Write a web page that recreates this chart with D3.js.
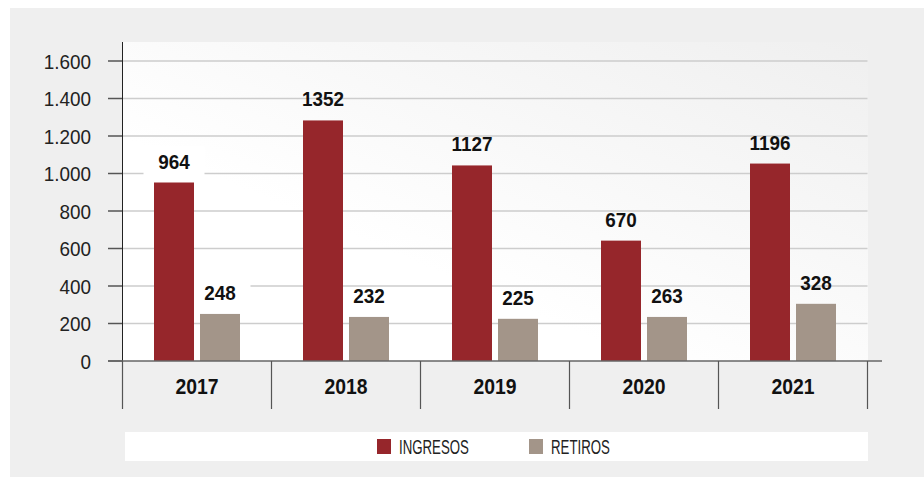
<!DOCTYPE html>
<html>
<head>
<meta charset="utf-8">
<script src="https://cdn.jsdelivr.net/npm/d3@7"></script>
<style>
  html, body { margin: 0; padding: 0; background: #ffffff; }
  svg { display: block; font-family: "Liberation Sans", Arial, sans-serif; }
</style>
</head>
<body>
<svg id="grafico" width="924" height="477"></svg>
<script>
// Datos
const anios = ["2017", "2018", "2019", "2020", "2021"];
const ingresos = [964, 1352, 1127, 670, 1196];        // etiquetas
const retiros = [248, 232, 225, 263, 328];            // etiquetas
// alturas de barra tal como aparecen dibujadas
const ingresosBarra = [952, 1283, 1043, 642, 1053];
const retirosBarra = [251, 235, 225, 235, 305];
const ticksY = [0, 200, 400, 600, 800, 1000, 1200, 1400, 1600];
const series = ["INGRESOS", "RETIROS"];

const colorIngresos = "#96262b";
const colorRetiros = "#a39589";
const formato = d3.formatLocale({ decimal: ",", thousands: ".", grouping: [3], currency: ["", ""] }).format(",d");

const svg = d3.select("#grafico");

// fondo exterior
svg.append("rect").attr("x", 10).attr("y", 8).attr("width", 914).attr("height", 469).attr("fill", "#efefef");

const y = d3.scaleLinear().domain([0, 1600]).range([361, 61]);
const x = d3.scaleBand().domain(anios).range([122.5, 867.5]).padding(0);

// degradado del area de trazado
const defs = svg.append("defs");
const grad = defs.append("linearGradient").attr("id", "fondoPlot")
    .attr("x1", "0%").attr("y1", "100%").attr("x2", "100%").attr("y2", "0%");
grad.append("stop").attr("offset", "0%").attr("stop-color", "#ffffff");
grad.append("stop").attr("offset", "35%").attr("stop-color", "#ffffff");
grad.append("stop").attr("offset", "100%").attr("stop-color", "#efefef");

svg.append("rect").attr("x", 123).attr("y", 42).attr("width", 745).attr("height", 319).attr("fill", "url(#fondoPlot)");

// lineas de cuadricula
svg.append("g").selectAll("line")
    .data(ticksY.filter(d => d > 0))
    .enter().append("line")
    .attr("x1", 123).attr("x2", 867.5)
    .attr("y1", d => y(d)).attr("y2", d => y(d))
    .attr("stroke", "#cdcdcd").attr("stroke-width", 1.3);

// marcas y etiquetas eje Y
const ejeY = svg.append("g");
ejeY.selectAll("line")
    .data(ticksY)
    .enter().append("line")
    .attr("x1", 108).attr("x2", 122.5)
    .attr("y1", d => y(d)).attr("y2", d => y(d))
    .attr("stroke", "#555").attr("stroke-width", 1.5);
ejeY.selectAll("g.tick")
    .data(ticksY)
    .enter().append("g")
    .attr("class", "tick")
    .attr("transform", d => "translate(91," + (y(d) + 7.5) + ") scale(0.9,1)")
    .append("text")
    .attr("text-anchor", "end")
    .attr("font-size", 21)
    .attr("fill", "#222")
    .text(d => formato(d));

svg.append("line").attr("x1", 122.5).attr("x2", 122.5).attr("y1", 42).attr("y2", 361)
    .attr("stroke", "#222").attr("stroke-width", 1);

// etiquetas de fondo blanco (solo primera columna)
const anchoBarra = 40;
const hueco = 6;
const xIng = d => x(d) + x.bandwidth() / 2 - hueco / 2 - anchoBarra;
const xRet = d => x(d) + x.bandwidth() / 2 + hueco / 2;

const cajas = svg.append("g");
[[ingresosBarra, xIng], [retirosBarra, xRet]].forEach(function (par) {
    const vals = par[0], fx = par[1];
    cajas.append("rect")
        .attr("x", fx(anios[0]) + anchoBarra / 2 - 30.5)
        .attr("y", y(vals[0]) - 14 - 22)
        .attr("width", 61).attr("height", 30)
        .attr("fill", "#ffffff");
});

// barras
const barras = svg.append("g");
barras.selectAll("rect.ing")
    .data(anios)
    .enter().append("rect")
    .attr("class", "ing")
    .attr("x", d => xIng(d))
    .attr("y", (d, i) => y(ingresosBarra[i]))
    .attr("width", anchoBarra)
    .attr("height", (d, i) => y(0) - y(ingresosBarra[i]))
    .attr("fill", colorIngresos);
barras.selectAll("rect.ret")
    .data(anios)
    .enter().append("rect")
    .attr("class", "ret")
    .attr("x", d => xRet(d))
    .attr("y", (d, i) => y(retirosBarra[i]))
    .attr("width", anchoBarra)
    .attr("height", (d, i) => y(0) - y(retirosBarra[i]))
    .attr("fill", colorRetiros);

// etiquetas de valor
function etiquetas(vals, alturas, fx) {
    svg.append("g").selectAll("g")
        .data(anios)
        .enter().append("g")
        .attr("transform", (d, i) => "translate(" + (fx(d) + anchoBarra / 2) + "," + (y(alturas[i]) - 14) + ") scale(0.9,1)")
        .append("text")
        .attr("text-anchor", "middle")
        .attr("font-size", 21)
        .attr("font-weight", "bold")
        .attr("fill", "#111")
        .text((d, i) => vals[i]);
}
etiquetas(ingresos, ingresosBarra, xIng);
etiquetas(retiros, retirosBarra, xRet);

// linea base y separadores de categoria
svg.append("line").attr("x1", 108).attr("x2", 882).attr("y1", y(0)).attr("y2", y(0))
    .attr("stroke", "#666").attr("stroke-width", 1.5);
const bordes = anios.map(d => x(d)).concat([x.range()[1]]);
svg.append("g").selectAll("line")
    .data(bordes)
    .enter().append("line")
    .attr("x1", d => d).attr("x2", d => d)
    .attr("y1", y(0)).attr("y2", 409)
    .attr("stroke", "#555").attr("stroke-width", 1.2);

svg.append("g").selectAll("g")
    .data(anios)
    .enter().append("g")
    .attr("transform", d => "translate(" + (x(d) + x.bandwidth() / 2) + ",394) scale(0.88,1)")
    .append("text")
    .attr("text-anchor", "middle")
    .attr("font-size", 22)
    .attr("font-weight", "bold")
    .attr("fill", "#111")
    .text(d => d);

// leyenda
svg.append("rect").attr("x", 125).attr("y", 432).attr("width", 743).attr("height", 29).attr("fill", "#ffffff");
const leyenda = [
    { nombre: series[0], color: colorIngresos, x: 377 },
    { nombre: series[1], color: colorRetiros, x: 529 }
];
const items = svg.append("g").selectAll("g")
    .data(leyenda)
    .enter().append("g")
    .attr("transform", d => "translate(" + d.x + ",439)");
items.append("rect").attr("width", 14).attr("height", 15).attr("fill", d => d.color);
items.append("g")
    .attr("transform", "translate(22,14.5) scale(0.68,1)")
    .append("text")
    .attr("font-size", 19.5)
    .attr("fill", "#222")
    .text(d => d.nombre);
</script>
</body>
</html>
